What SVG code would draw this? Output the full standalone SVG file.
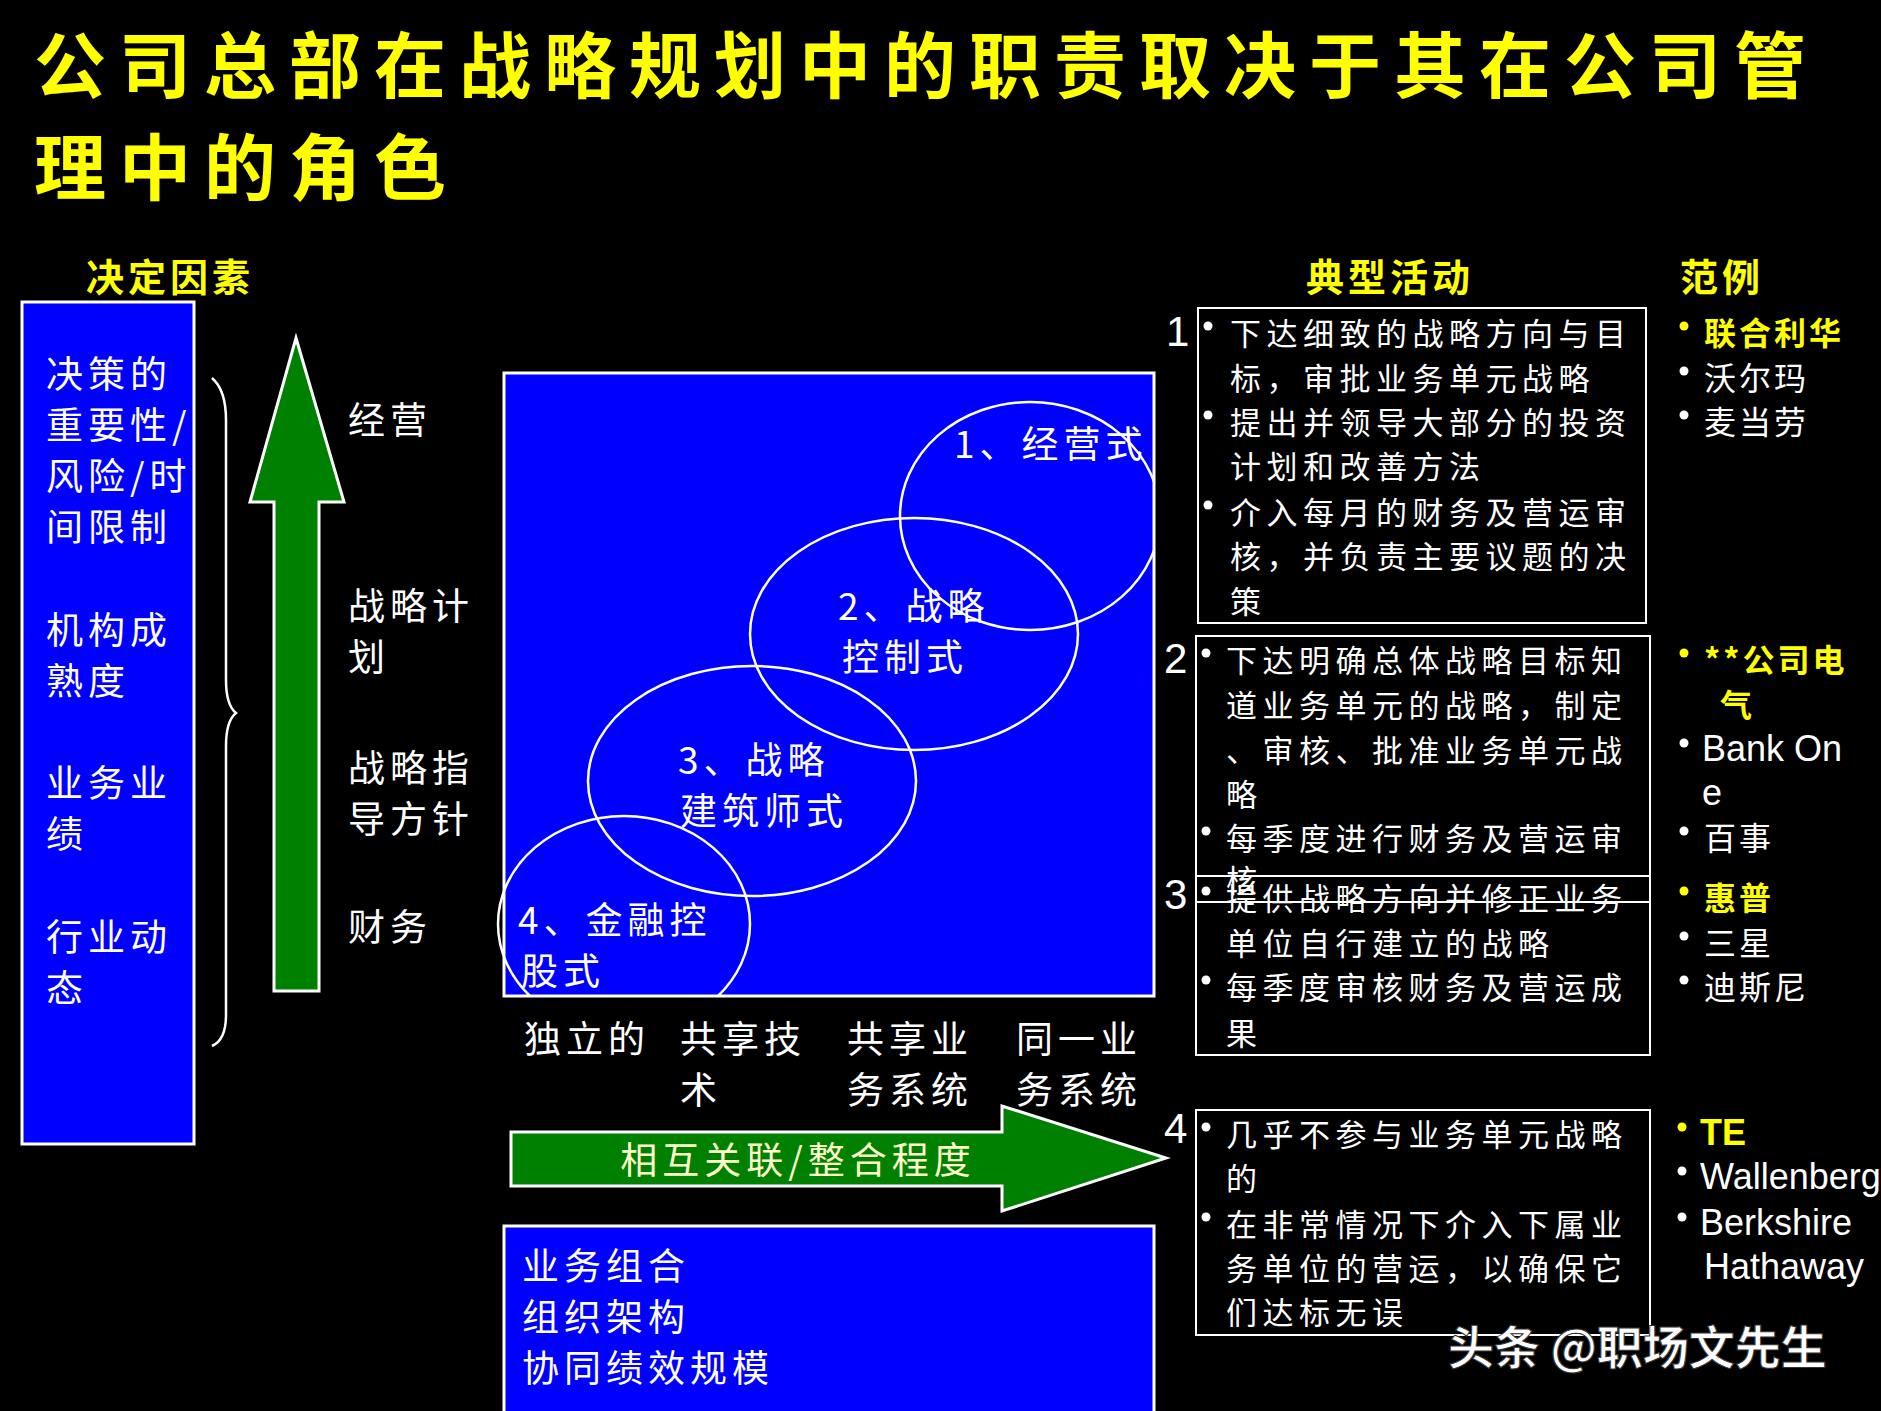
<svg xmlns="http://www.w3.org/2000/svg" width="1881" height="1411" viewBox="0 0 1881 1411">
<style>
text{font-family:"Noto Sans CJK SC","Liberation Sans",sans-serif;dominant-baseline:central;}
.t{fill:#ffff00;font-weight:bold;font-size:72px;letter-spacing:13px;}
.h{fill:#ffff00;font-weight:bold;font-size:38px;letter-spacing:4px;}
.w{fill:#fff;font-size:37px;letter-spacing:5px;}
.s{fill:#fff;font-size:31px;letter-spacing:5.5px;}
.e{fill:#fff;font-size:32px;letter-spacing:3px;}
.l{font-family:"Liberation Sans",sans-serif;font-size:36px;letter-spacing:0;}
.y{fill:#ffff00;font-weight:bold;}
.n{fill:#fff;font-size:42px;font-family:"Liberation Sans",sans-serif;}
.blue{fill:#0000ff;stroke:#fff;stroke-width:3;}
.box{fill:none;stroke:#fff;stroke-width:2;}
.ell{fill:none;stroke:#fff;stroke-width:2.5;}
.grn{fill:#008000;stroke:#fff;stroke-width:3;}
.b{fill:#fff;}
.by{fill:#ffff00;}
</style>
<defs><clipPath id="sq"><rect x="496" y="373" width="658" height="623"/></clipPath></defs>
<rect width="1881" height="1411" fill="#000"/>
<g id="title">
<text class="t" x="34" y="60">公司总部在战略规划中的职责取决于其在公司管</text>
<text class="t" x="34" y="162">理中的角色</text>
</g>
<g id="factors">
<text class="h" x="86" y="274">决定因素</text>
<rect class="blue" x="22" y="302" width="172" height="842"/>
<text class="w" x="46" y="372">决策的</text>
<text class="w" x="46" y="423">重要性/</text>
<text class="w" x="46" y="474">风险/时</text>
<text class="w" x="46" y="525">间限制</text>
<text class="w" x="46" y="628">机构成</text>
<text class="w" x="46" y="679">熟度</text>
<text class="w" x="46" y="781">业务业</text>
<text class="w" x="46" y="832">绩</text>
<text class="w" x="46" y="935">行业动</text>
<text class="w" x="46" y="986">态</text>
<path d="M212 378 Q226 390 226 420 L226 680 Q226 705 236 713 Q226 721 226 746 L226 1015 Q226 1040 212 1046" fill="none" stroke="#fff" stroke-width="2.5"/>
</g>
<g id="uparrow">
<path class="grn" d="M296 338 L344 502 L319 502 L319 991 L274 991 L274 502 L250 502 Z"/>
<text class="w" x="348" y="418">经营</text>
<text class="w" x="348" y="604">战略计</text>
<text class="w" x="348" y="655">划</text>
<text class="w" x="348" y="766">战略指</text>
<text class="w" x="348" y="817">导方针</text>
<text class="w" x="348" y="925">财务</text>
</g>
<g id="matrix">
<rect class="blue" x="504" y="373" width="650" height="623"/>
<g clip-path="url(#sq)">
<ellipse class="ell" cx="1030" cy="516" rx="130" ry="114"/>
<ellipse class="ell" cx="914" cy="634" rx="164" ry="116"/>
<ellipse class="ell" cx="752" cy="781" rx="164" ry="115"/>
<ellipse class="ell" cx="624" cy="924" rx="126" ry="108"/>
</g>
<text class="w" x="954" y="442">1、经营式</text>
<text class="w" x="838" y="604">2、战略</text>
<text class="w" x="842" y="655">控制式</text>
<text class="w" x="678" y="758">3、战略</text>
<text class="w" x="680" y="809">建筑师式</text>
<text class="w" x="518" y="918">4、金融控</text>
<text class="w" x="521" y="969">股式</text>
</g>
<g id="axis">
<text class="w" x="524" y="1037">独立的</text>
<text class="w" x="680" y="1037">共享技</text>
<text class="w" x="680" y="1088">术</text>
<text class="w" x="847" y="1037">共享业</text>
<text class="w" x="847" y="1088">务系统</text>
<text class="w" x="1016" y="1037">同一业</text>
<text class="w" x="1016" y="1088">务系统</text>
<path class="grn" d="M511 1132 L1002 1132 L1002 1106 L1166 1158 L1002 1211 L1002 1186 L511 1186 Z"/>
<text class="w" x="798" y="1158" text-anchor="middle" style="fill:#ffffcc">相互关联/整合程度</text>
</g>
<g id="bottom">
<rect class="blue" x="504" y="1226" width="650" height="200"/>
<text class="w" x="522" y="1264">业务组合</text>
<text class="w" x="522" y="1315">组织架构</text>
<text class="w" x="522" y="1366">协同绩效规模</text>
</g>
<g id="activities">
<text class="h" x="1306" y="274">典型活动</text>
<text class="h" x="1680" y="274">范例</text>
<rect class="box" x="1198" y="308" width="448" height="315"/>
<rect class="box" x="1196" y="636" width="454" height="266"/>
<rect class="box" x="1196" y="876" width="454" height="179"/>
<rect class="box" x="1196" y="1110" width="454" height="225"/>
<text class="n" x="1166" y="331">1</text>
<text class="n" x="1164" y="658">2</text>
<text class="n" x="1164" y="894">3</text>
<text class="n" x="1164" y="1128">4</text>
<circle class="b" cx="1208" cy="326" r="4.5"/><circle class="b" cx="1208" cy="415" r="4.5"/><circle class="b" cx="1208" cy="505" r="4.5"/>
<circle class="b" cx="1206" cy="653" r="4.5"/><circle class="b" cx="1206" cy="831" r="4.5"/><circle class="b" cx="1206" cy="891" r="4.5"/><circle class="b" cx="1206" cy="980" r="4.5"/>
<circle class="b" cx="1206" cy="1127" r="4.5"/><circle class="b" cx="1206" cy="1217" r="4.5"/>
<g class="s">
<text x="1230" y="331">下达细致的战略方向与目</text>
<text x="1230" y="376">标，审批业务单元战略</text>
<text x="1230" y="420">提出并领导大部分的投资</text>
<text x="1230" y="464">计划和改善方法</text>
<text x="1230" y="510">介入每月的财务及营运审</text>
<text x="1230" y="554">核，并负责主要议题的决</text>
<text x="1230" y="599">策</text>
<text x="1226" y="658">下达明确总体战略目标知</text>
<text x="1226" y="703">道业务单元的战略，制定</text>
<text x="1226" y="748">、审核、批准业务单元战</text>
<text x="1226" y="792">略</text>
<text x="1226" y="836">每季度进行财务及营运审</text>
<text x="1226" y="878">核</text>
<text x="1226" y="896">提供战略方向并修正业务</text>
<text x="1226" y="941">单位自行建立的战略</text>
<text x="1226" y="985">每季度审核财务及营运成</text>
<text x="1226" y="1031">果</text>
<text x="1226" y="1132">几乎不参与业务单元战略</text>
<text x="1226" y="1176">的</text>
<text x="1226" y="1222">在非常情况下介入下属业</text>
<text x="1226" y="1266">务单位的营运，以确保它</text>
<text x="1226" y="1310">们达标无误</text>
</g>
</g>
<g id="examples" class="e">
<circle class="by" cx="1684" cy="326" r="4.5"/><circle class="b" cx="1684" cy="371" r="4.5"/><circle class="b" cx="1684" cy="415" r="4.5"/>
<circle class="by" cx="1684" cy="653" r="4.5"/><circle class="b" cx="1684" cy="743" r="4.5"/><circle class="b" cx="1684" cy="831" r="4.5"/>
<circle class="by" cx="1684" cy="891" r="4.5"/><circle class="b" cx="1684" cy="936" r="4.5"/><circle class="b" cx="1684" cy="980" r="4.5"/>
<circle class="by" cx="1682" cy="1127" r="4.5"/><circle class="b" cx="1682" cy="1171" r="4.5"/><circle class="b" cx="1682" cy="1217" r="4.5"/>
<text class="y" x="1704" y="331">联合利华</text>
<text x="1704" y="376">沃尔玛</text>
<text x="1704" y="420">麦当劳</text>
<text class="y" x="1704" y="658">**公司电</text>
<text class="y" x="1720" y="703">气</text>
<text class="l" x="1702" y="748">Bank On</text>
<text class="l" x="1702" y="792">e</text>
<text x="1704" y="836">百事</text>
<text class="y" x="1704" y="896">惠普</text>
<text x="1704" y="941">三星</text>
<text x="1704" y="985">迪斯尼</text>
<text class="y l" x="1700" y="1132">TE</text>
<text class="l" x="1700" y="1176">Wallenberg</text>
<text class="l" x="1700" y="1222">Berkshire</text>
<text class="l" x="1704" y="1266">Hathaway</text>
</g>
<g id="watermark">
<text x="1448" y="1344" style="fill:#fff;font-size:46px;font-weight:bold;stroke:#333;stroke-width:1">头条 @职场文先生</text>
</g>
</svg>
